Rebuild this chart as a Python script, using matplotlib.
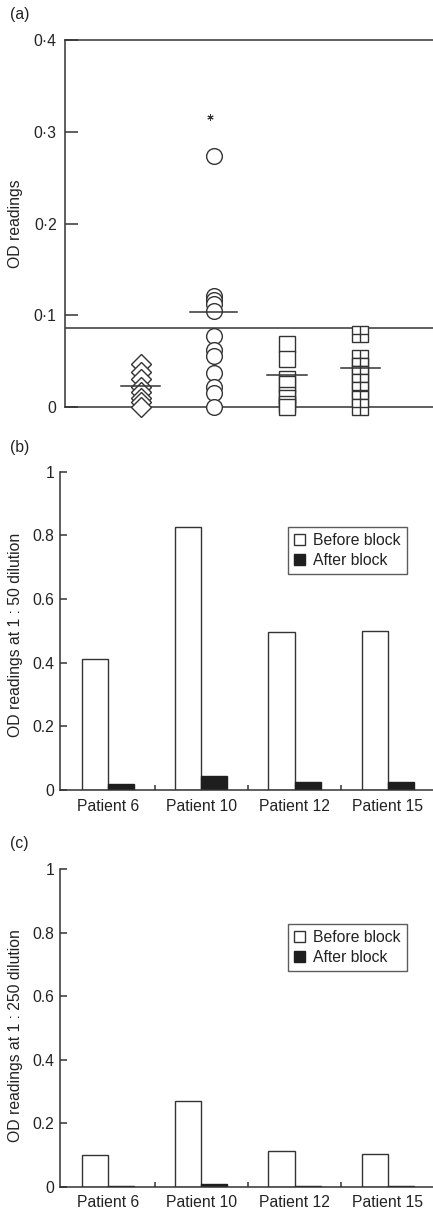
import matplotlib
matplotlib.use("Agg")
import matplotlib.pyplot as plt
from matplotlib.patches import Patch
import numpy as np

plt.rcParams['font.family'] = ['Liberation Sans', 'DejaVu Sans']
plt.rcParams['font.size'] = 11

LC = '#333333'
TC = '#222222'

# ---------------- Panel (a) data ----------------
grp_pos = [1, 2, 3, 4]
diamonds = [0.047, 0.038, 0.030, 0.022, 0.016, 0.010, 0.005, 0.0]
circles = [0.274, 0.121, 0.117, 0.112, 0.105, 0.077, 0.062, 0.056, 0.037, 0.022, 0.015, 0.0]
squares = [0.069, 0.052, 0.030, 0.025, 0.013, 0.010, 0.003, 0.0]
crosssq = [0.080, 0.053, 0.045, 0.036, 0.027, 0.019, 0.009, 0.0]
group_means = [0.023, 0.104, 0.035, 0.042]
mean_halfwidth = [0.27, 0.32, 0.27, 0.27]
threshold = 0.086
star_y = 0.316
a_yticks = [0, 0.1, 0.2, 0.3, 0.4]
a_yticklabels = ['0', '0\u00b71', '0\u00b72', '0\u00b73', '0\u00b74']

# ---------------- Panels (b) and (c) data ----------------
patients = ['Patient 6', 'Patient 10', 'Patient 12', 'Patient 15']
b_before = [0.412, 0.825, 0.496, 0.498]
b_after = [0.018, 0.045, 0.024, 0.024]
c_before = [0.099, 0.271, 0.111, 0.104]
c_after = [0.002, 0.010, 0.002, 0.001]
bc_yticks = [0, 0.2, 0.4, 0.6, 0.8, 1]
bc_yticklabels = ['0', '0.2', '0.4', '0.6', '0.8', '1']

W, H = 433, 1213
fig = plt.figure(figsize=(W / 100, H / 100), dpi=100)

def frac_box(left, top, right, bottom):
    return [left / W, 1 - bottom / H, (right - left) / W, (bottom - top) / H]

# ---------------- Panel (a) ----------------
axa = fig.add_axes(frac_box(65, 40, 433, 407))
axa.set_xlim(-0.03, 4.99)
axa.set_ylim(0, 0.4)
axa.spines['right'].set_visible(False)
for s in ['top', 'bottom', 'left']:
    axa.spines[s].set_color(LC)
    axa.spines[s].set_linewidth(1.1)
axa.set_xticks([])
axa.set_yticks(a_yticks)
axa.set_yticklabels(a_yticklabels)
axa.tick_params(axis='y', direction='in', length=9.4, width=1.1, color=LC,
                pad=6, labelsize=11.3, labelcolor=TC)
axa.axhline(threshold, color=LC, lw=1.1, zorder=1)

def col(x, vals, marker, ms, mew=1.0):
    for v in vals:
        axa.plot([x], [v], marker=marker, ms=ms, mfc='white', mec=LC, mew=mew,
                 ls='none', clip_on=False, zorder=3)

col(grp_pos[0], diamonds, 'D', 10.6)
col(grp_pos[1], circles, 'o', 11.3)
col(grp_pos[2], squares, 's', 11.4)
for v in crosssq:
    axa.plot([grp_pos[3]], [v], marker='s', ms=11.4, mfc='white', mec=LC, mew=1.0,
             ls='none', clip_on=False, zorder=3)
    axa.plot([grp_pos[3]], [v], marker='+', ms=11.4, mec=LC, mew=1.0,
             ls='none', clip_on=False, zorder=3)

for x, m, hw in zip(grp_pos, group_means, mean_halfwidth):
    axa.plot([x - hw, x + hw], [m, m], color=LC, lw=1.1, zorder=4, clip_on=False)

axa.plot([grp_pos[1] - 0.05], [star_y], marker=(6, 2, 0), ms=4.5, mew=0.7,
         color=LC, ls='none', zorder=4)

axa.set_ylabel('OD readings', fontsize=11.3, color=TC)
axa.yaxis.set_label_coords(-0.114, 0.5)

# ---------------- Panels (b), (c) ----------------
def bar_panel(box, before, after, ylabel, lab_y, legend_anchor):
    ax = fig.add_axes(box)
    x = np.arange(len(patients))
    bw = 0.28
    ax.bar(x - bw / 2, before, bw, color='white', edgecolor=LC, lw=1.0,
           label='Before block', zorder=2)
    ax.bar(x + bw / 2, after, bw, color='#1e1e1e', edgecolor='#1e1e1e', lw=1.0,
           label='After block', zorder=2)
    ax.set_xlim(-0.514, 3.484)
    ax.set_ylim(0, 1)
    ax.spines['top'].set_visible(False)
    ax.spines['right'].set_visible(False)
    for s in ['left', 'bottom']:
        ax.spines[s].set_color(LC)
        ax.spines[s].set_linewidth(1.1)
    ax.set_yticks(bc_yticks)
    ax.set_yticklabels(bc_yticklabels)
    ax.tick_params(axis='y', direction='in', length=5, width=1.1, color=LC,
                   pad=4, labelsize=11.3, labelcolor=TC)
    ax.set_xticks(x)
    ax.set_xticklabels(patients)
    ax.set_xticks([0.5, 1.5, 2.5], minor=True)
    ax.tick_params(axis='x', which='major', length=0, pad=6.3, labelsize=11.3,
                   labelcolor=TC)
    ax.tick_params(axis='x', which='minor', direction='in', length=3.6,
                   width=1.1, color=LC)
    ax.set_ylabel(ylabel, fontsize=11.3, color=TC)
    ax.yaxis.set_label_coords(-0.099, lab_y)
    handles = [Patch(facecolor='white', edgecolor=LC, lw=1.0),
               Patch(facecolor='#1e1e1e', edgecolor='#1e1e1e', lw=1.0)]
    leg = ax.legend(handles, ['Before block', 'After block'], loc='upper right',
                    bbox_to_anchor=legend_anchor, fontsize=11.3, frameon=True,
                    fancybox=False, edgecolor=LC, handlelength=0.7,
                    handleheight=0.7, handletextpad=0.5, labelspacing=0.3,
                    borderpad=0.4, borderaxespad=0.0)
    leg.get_frame().set_linewidth(1.0)
    for t in leg.get_texts():
        t.set_color(TC)
    return ax

bar_panel(frac_box(60, 471.7, 433, 790), b_before, b_after,
          'OD readings at 1 : 50 dilution', 0.487, (0.9295, 0.826))
bar_panel(frac_box(60, 869, 433, 1186.7), c_before, c_after,
          'OD readings at 1 : 250 dilution', 0.475, (0.9295, 0.8265))

for lab, yc in [('(a)', 15), ('(b)', 447.7), ('(c)', 843.3)]:
    fig.text(10 / W, 1 - yc / H, lab, fontsize=11.3, color=TC, ha='left', va='center')

fig.savefig('out.png', dpi=100)
